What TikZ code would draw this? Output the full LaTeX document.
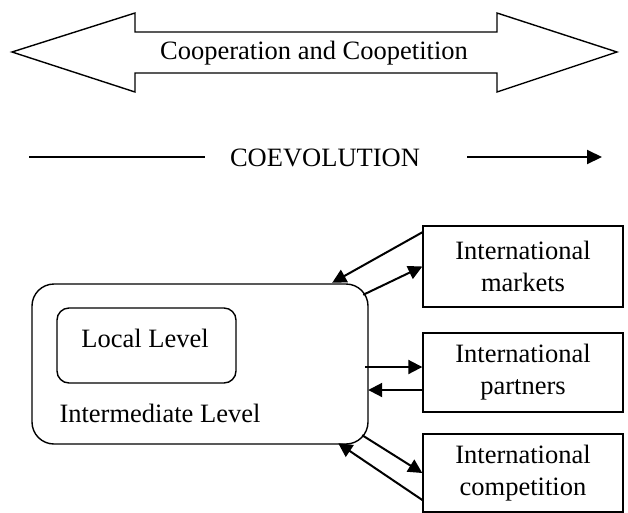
\documentclass[tikz,border=0pt]{standalone}
\usepackage{fontspec}
\setmainfont{Liberation Serif}
\usetikzlibrary{arrows.meta,calc}
\begin{document}
\begin{tikzpicture}[x=1pt,y=-1pt,
  every node/.style={font=\fontsize{26.5}{32}\selectfont},
  outline/.style={draw,line width=1.4pt},
  levelbox/.style={outline,rounded corners=22pt,inner sep=0pt},
  extbox/.style={outline,minimum width=200pt,align=center,inner sep=0pt},
  link/.style={line width=2pt,-{Triangle[length=14pt,width=14pt]}}]
\useasboundingbox (0,0) rectangle (628,512);

% two-headed banner arrow
\draw[outline,line join=miter] (12,52) -- (135,13) -- (135,32) -- (497,32) -- (497,13)
  -- (617,52) -- (497,92) -- (497,73) -- (135,73) -- (135,92) -- cycle;
\node (coop) at (314,53) {Cooperation and Coopetition};

% coevolution time line
\node (coev) at (325,158) {COEVOLUTION};
\coordinate (tl) at (29,157);
\coordinate (tr) at (602,157);
\draw[line width=2pt] (tl) -- ([xshift=-22pt]coev.west |- tl);
\draw[line width=2pt,-{Triangle[length=15pt,width=14pt]}] ([xshift=44pt]coev.east |- tr) -- (tr);

% nested levels
\draw[levelbox] (32,284) rectangle (368,444);
\node[draw,line width=1.4pt,rounded corners=12pt,minimum width=179pt,minimum height=75pt,
  inner sep=0pt] (local) at (146.5,345.5) {};
\node (loc) at (145,338) {Local Level};
\node[anchor=west] (imd) at (56,413) {Intermediate Level};
\node[minimum width=336pt,minimum height=160pt,inner sep=0pt] (mid) at (200,364) {};

% international boxes
\node[extbox,minimum height=81pt] (mk) at (523,266.5) {International\\markets};
\node[extbox,minimum height=79pt] (pt) at (523,372.5) {International\\partners};
\node[extbox,minimum height=78pt] (cp) at (523,473) {International\\competition};

% exchanges
\draw[link] ($(mk.north west)+(0,7)$) -- ($(mid.north east)+(-36,-1)$);
\draw[link] ($(mid.north east)+(-5,11)$) -- (mk.west);
\draw[link] ($(mid.east)+(-3,3)$) -- ($(pt.west)+(0,-5.5)$);
\draw[link] ($(pt.west)+(0,17.5)$) -- ($(mid.east)+(0,26)$);
\draw[link] ($(mid.south east)+(-6,-9)$) -- (cp.west);
\draw[link] ($(cp.west)+(0,27)$) -- ($(mid.south east)+(-30,-1)$);
\end{tikzpicture}
\end{document}
